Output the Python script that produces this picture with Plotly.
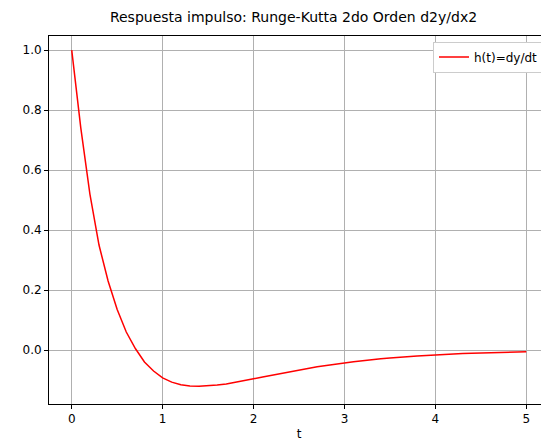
import plotly.graph_objects as go

t = [round(0.1 * i, 1) for i in range(51)]
h = [1.0, 0.74, 0.52, 0.35, 0.23, 0.135, 0.06, 0.005, -0.04, -0.07,
     -0.093, -0.107, -0.116, -0.12, -0.121, -0.12, -0.117, -0.113, -0.108, -0.102,
     -0.096, -0.09, -0.084, -0.078, -0.072, -0.067, -0.061, -0.056, -0.052, -0.047,
     -0.043, -0.039, -0.036, -0.032, -0.029, -0.027, -0.024, -0.022, -0.020, -0.018,
     -0.016, -0.015, -0.013, -0.012, -0.011, -0.010, -0.009, -0.008, -0.007, -0.006,
     -0.006]

fig = go.Figure()
fig.add_trace(go.Scatter(x=t, y=h, mode='lines', name='h(t)=dy/dt',
                         line=dict(color='red', width=1.5)))

ax = dict(showgrid=True, gridcolor='#b0b0b0', gridwidth=1, zeroline=False,
          showline=True, linecolor='black', mirror=True, ticks='outside',
          ticklen=4, tickcolor='black', automargin=False)
fig.update_layout(
    width=549, height=439,
    paper_bgcolor='white', plot_bgcolor='white',
    font=dict(family='DejaVu Sans', size=12, color='black'),
    title=dict(text='Respuesta impulso: Runge-Kutta 2do Orden d2y/dx2',
               x=0.52, xanchor='center', y=0.99, yanchor='top', font=dict(size=14)),
    margin=dict(l=41, r=8, t=28, b=43),
    xaxis=dict(ax, range=[-0.25, 5.25], dtick=1,
               title=dict(text='t', standoff=4, font=dict(size=12))),
    yaxis=dict(ax, range=[-0.18, 1.047], tickvals=[0, 0.2, 0.4, 0.6, 0.8, 1.0],
               tickformat='.1f'),
    showlegend=True,
    legend=dict(x=0.99, y=0.985, xanchor='right', yanchor='top',
                bordercolor='#cccccc', borderwidth=1, bgcolor='white'),
)

fig.write_html("out.html")
